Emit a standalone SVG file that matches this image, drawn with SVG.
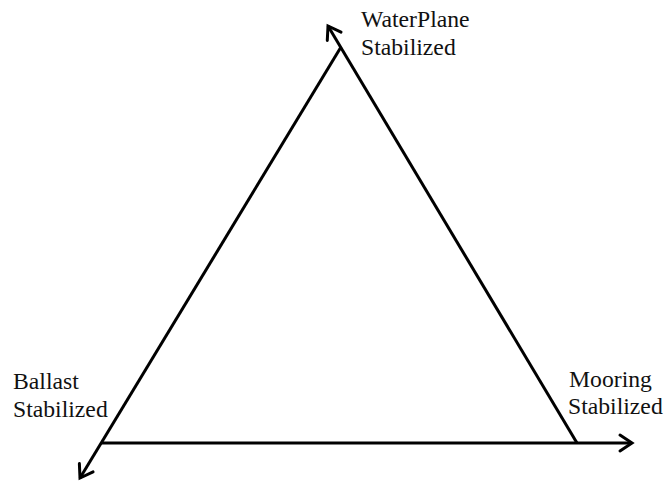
<svg xmlns="http://www.w3.org/2000/svg" width="665" height="482" viewBox="0 0 665 482">
<defs>
<marker id="arr" viewBox="-14 -10 16 20" refX="0" refY="0" markerWidth="16" markerHeight="20" markerUnits="userSpaceOnUse" orient="auto" overflow="visible">
<path d="M-12,-8 L0,0 L-12,8" fill="none" stroke="#000" stroke-width="3" stroke-linecap="round" stroke-linejoin="miter"/>
</marker>
</defs>
<style>
.ln{fill:none;stroke:#000;stroke-width:3;stroke-linecap:butt}
.lb{font-family:"Liberation Serif","Times New Roman",serif;font-size:23.7px;fill:#111}
</style>
<rect width="665" height="482" fill="#fff"/>
<g id="connectors">
<line class="ln" x1="577" y1="443" x2="328" y2="26" marker-end="url(#arr)"/>
<line class="ln" x1="341" y1="47" x2="80" y2="478" marker-end="url(#arr)"/>
<line class="ln" x1="101" y1="443" x2="632" y2="443" marker-end="url(#arr)"/>
</g>
<g id="waterplane">
<text class="lb" x="361" y="27">WaterPlane</text>
<text class="lb" x="361" y="55">Stabilized</text>
</g>
<g id="ballast">
<text class="lb" x="13" y="389">Ballast</text>
<text class="lb" x="13" y="417">Stabilized</text>
</g>
<g id="mooring">
<text class="lb" x="569" y="387">Mooring</text>
<text class="lb" x="568" y="414">Stabilized</text>
</g>
</svg>
